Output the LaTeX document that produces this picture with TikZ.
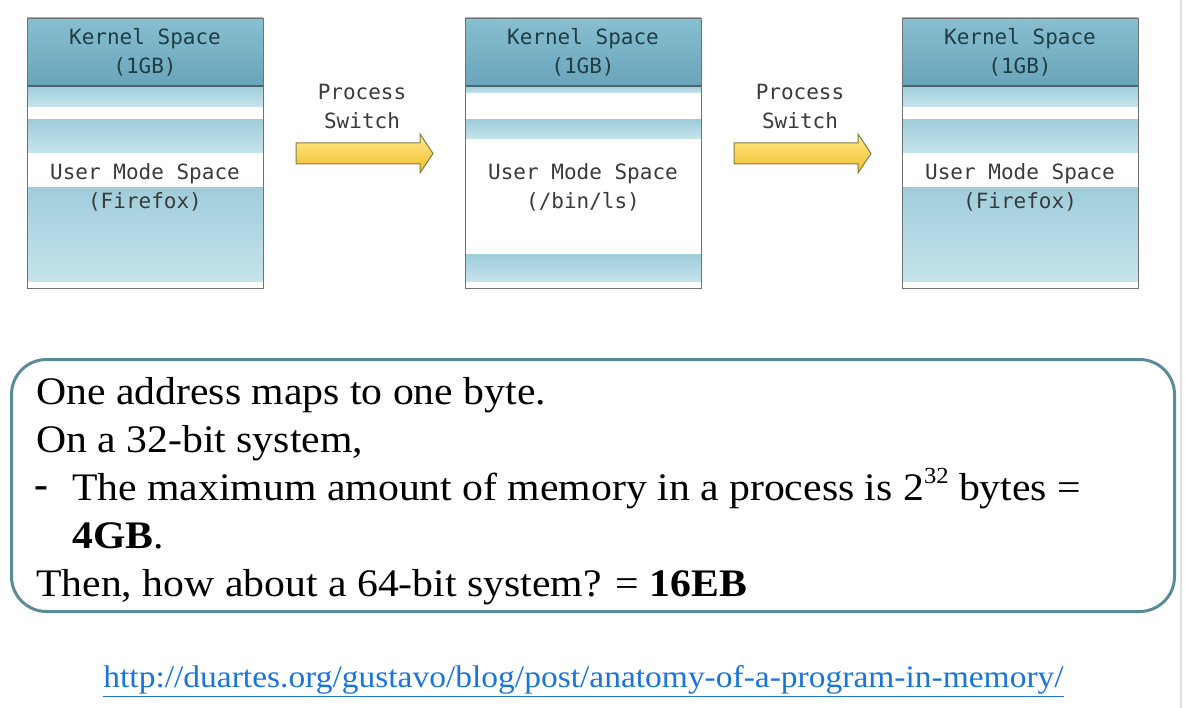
\documentclass[tikz,border=0pt]{standalone}
\usepackage{fontspec}
\setmainfont[FakeStretch=1.07]{Liberation Serif}
\newfontfamily\monof{DejaVu Sans Mono}
\definecolor{hdrtop}{HTML}{88BFD1}
\definecolor{hdrbot}{HTML}{6AA4BA}
\definecolor{bluetop}{HTML}{A0CDDB}
\definecolor{bluebot}{HTML}{C6E4EC}
\definecolor{kcol}{HTML}{1F3D45}
\definecolor{ucol}{HTML}{3A3A3A}
\definecolor{framec}{HTML}{6E7275}
\definecolor{boxc}{HTML}{5B8B97}
\definecolor{urlc}{HTML}{1A75DA}
\definecolor{arrtop}{HTML}{FFEC8C}
\definecolor{arrbot}{HTML}{F2BC2C}
\definecolor{arrline}{HTML}{8A7C45}
\tikzset{
  hdr/.style={top color=hdrtop, bottom color=hdrbot},
  blu/.style={top color=bluetop, bottom color=bluebot},
  memframe/.style={draw=framec, line width=1.2pt, minimum width=236pt, minimum height=270pt, anchor=north west, inner sep=0pt},
  monotxt/.style={font=\monof\fontsize{21}{29}\selectfont, align=center, inner sep=0pt},
  blockarrow/.style={draw=arrline, line width=1pt, top color=arrtop, bottom color=arrbot, line join=miter},
  body/.style={anchor=base west, inner sep=0pt, font=\fontsize{39}{48}\selectfont}
}
\newcommand{\mysup}[1]{\raisebox{0.42em}{\fontsize{23}{23}\selectfont #1}}
\begin{document}
\begin{tikzpicture}[x=1pt,y=-1pt]
\useasboundingbox (0,0) rectangle (1185,708);
\fill[white] (0,0) rectangle (1185,708);
\draw[black!12, line width=1.5pt] (1181,0) -- (1181,708);

% ---- box 1 (Firefox) ----
\shade[hdr] (27,18) rectangle (263,86);
\shade[blu] (27,86) rectangle (263,107);
\shade[blu] (27,120) rectangle (263,153);
\shade[blu] (27,188) rectangle (263,282);
\draw[kcol!80, line width=1.2pt] (27,86) -- (263,86);
\node[memframe] (m1) at (27,18) {};
\node[monotxt, text=kcol] (k1) at (145,52) {Kernel Space\\(1GB)};
\node[monotxt, text=ucol] (u1) at (145,187) {User Mode Space\\(Firefox)};

% ---- box 2 (/bin/ls) ----
\shade[hdr] (465,18) rectangle (701,86);
\shade[blu] (465,86) rectangle (701,93);
\shade[blu] (465,120) rectangle (701,139);
\shade[blu] (465,255) rectangle (701,282);
\draw[kcol!80, line width=1.2pt] (465,86) -- (701,86);
\node[memframe] (m2) at (465,18) {};
\node[monotxt, text=kcol] (k2) at (583,52) {Kernel Space\\(1GB)};
\node[monotxt, text=ucol] (u2) at (583,187) {User Mode Space\\(/bin/ls)};

% ---- box 3 (Firefox) ----
\shade[hdr] (902,18) rectangle (1138,86);
\shade[blu] (902,86) rectangle (1138,107);
\shade[blu] (902,120) rectangle (1138,153);
\shade[blu] (902,188) rectangle (1138,282);
\draw[kcol!80, line width=1.2pt] (902,86) -- (1138,86);
\node[memframe] (m3) at (902,18) {};
\node[monotxt, text=kcol] (k3) at (1020,52) {Kernel Space\\(1GB)};
\node[monotxt, text=ucol] (u3) at (1020,187) {User Mode Space\\(Firefox)};

% ---- process switch arrows ----
\node[monotxt, text=ucol] (p1) at (362,106) {Process\\Switch};
\draw[blockarrow] (296,143) -- (420,143) -- (420,134) -- (433,153.5) -- (420,173) -- (420,164) -- (296,164) -- cycle;
\node[monotxt, text=ucol] (p2) at (800,106) {Process\\Switch};
\draw[blockarrow] (734,143) -- (858,143) -- (858,134) -- (871,153.5) -- (858,173) -- (858,164) -- (734,164) -- cycle;

% ---- text box ----
\node[draw=boxc, line width=3pt, rounded corners=35pt, minimum width=1163pt, minimum height=252pt, anchor=north west, inner sep=0pt] (tb) at (10,358) {};
\node[body] (l1) at (36,404) {One address maps to one byte.};
\node[body] (l2) at (36,452) {On a 32-bit system,};
\node[body] (d3) at (34,497) {\textbf{-}};
\node[body] (l3) at (72,500) {The maximum amount of memory in a process is 2\mysup{32} bytes =};
\node[body] (l4) at (72,548) {\textbf{4GB}.};
\node[body] (l5) at (36,596) {Then, how about a 64-bit system? = \textbf{16EB}};

% ---- url ----
\node[text=urlc, inner sep=0pt, font=\fontsize{31.3}{36}\selectfont] (url) at (583.5,681) {\underline{http://duartes.org/gustavo/blog/post/anatomy-of-a-program-in-memory/}};
\end{tikzpicture}
\end{document}
